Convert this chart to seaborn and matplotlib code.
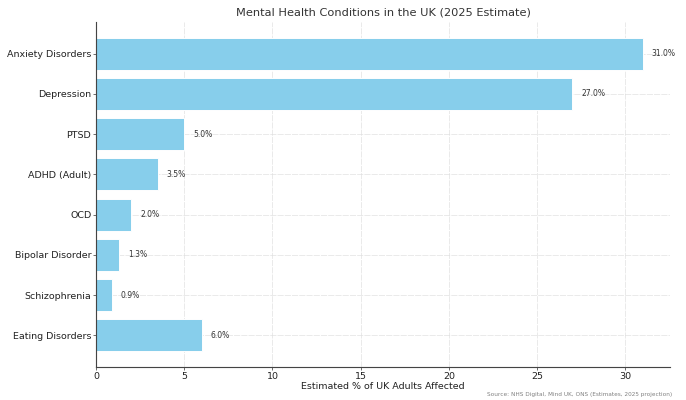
import matplotlib
matplotlib.use("Agg")
import matplotlib.pyplot as plt
import seaborn as sns
import pandas as pd

conditions = ["Anxiety Disorders", "Depression", "PTSD", "ADHD (Adult)", "OCD",
              "Bipolar Disorder", "Schizophrenia", "Eating Disorders"]
percent = [31.0, 27.0, 5.0, 3.5, 2.0, 1.3, 0.9, 6.0]

df = pd.DataFrame({"Condition": conditions, "Percent": percent})

sns.set_style("white")
plt.rcParams['font.family'] = ['DejaVu Sans']

fig, ax = plt.subplots(figsize=(10, 400 / 68.6), dpi=68.6)
sns.barplot(data=df, y="Condition", x="Percent", color="skyblue", orient="h",
            width=0.8, ax=ax, saturation=1)
ax.set_ylim(7.79, -0.79)
ax.set_xlim(0, 32.55)

for i, v in enumerate(percent):
    ax.text(v + 0.5, i, f"{v:.1f}%", va="center", ha="left", fontsize=8, color="#333333")

ax.set_title("Mental Health Conditions in the UK (2025 Estimate)", fontsize=12,
             color="#333333", pad=7)
ax.set_xlabel("Estimated % of UK Adults Affected", fontsize=10, color="#222222", labelpad=1)
ax.set_ylabel("")
ax.tick_params(axis="both", labelsize=10, length=3, width=0.8, pad=2, color="#444444",
               labelcolor="#222222", left=True, bottom=True)
ax.grid(True, linestyle=(0, (8, 1.5)), color="#dddddd", alpha=0.8, linewidth=0.8)
ax.set_axisbelow(True)
for s in ["top", "right"]:
    ax.spines[s].set_visible(False)
for s in ["left", "bottom"]:
    ax.spines[s].set_color("#444444")
    ax.spines[s].set_linewidth(1.2)

fig.text(0.98, 0.008, "Source: NHS Digital, Mind UK, ONS (Estimates, 2025 projection)",
         ha="right", va="bottom", fontsize=6, color="gray")

fig.subplots_adjust(left=0.14, right=0.977, top=0.945, bottom=0.0825)
fig.savefig("out.png", dpi=68.6)
